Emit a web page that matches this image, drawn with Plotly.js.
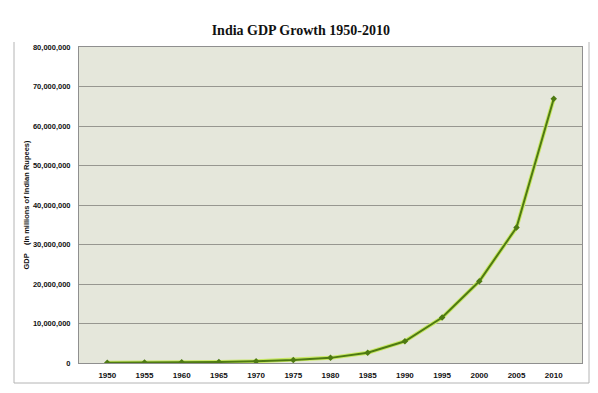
<!DOCTYPE html>
<html>
<head>
<meta charset="utf-8">
<script src="https://cdn.plot.ly/plotly-3.0.1.min.js"></script>
<style>html,body{margin:0;padding:0;background:#fff;}#chart{width:598px;height:393px;}</style>
</head>
<body>
<div id="chart"></div>
<script>
const years = ['1950','1955','1960','1965','1970','1975','1980','1985','1990','1995','2000','2005','2010'];
const gdp = [90000, 105000, 160000, 250000, 420000, 750000, 1300000, 2600000, 5500000, 11500000, 20700000, 34300000, 66900000];
const yTicks = [0, 10000000, 20000000, 30000000, 40000000, 50000000, 60000000, 70000000, 80000000];
const yTickText = ['0','10,000,000','20,000,000','30,000,000','40,000,000','50,000,000','60,000,000','70,000,000','80,000,000'];

const L = 79, T = 47, W = 503, H = 316;
function px(x){return (x - L)/W;}
function py(y){return (T + H - y)/H;}

const glow = {x: years, y: gdp, type: 'scatter', mode: 'lines',
  line: {color: '#c9e866', width: 4}, hoverinfo: 'skip', showlegend: false};
const main = {x: years, y: gdp, type: 'scatter', mode: 'lines+markers',
  line: {color: '#4e7a12', width: 2},
  marker: {symbol: 'diamond', size: 5, color: '#4e7a12'}, showlegend: false};

const frame = {color: '#b4b4b4', width: 1};
const layout = {
  width: 598, height: 393,
  margin: {l: L, r: 598 - L - W, t: T, b: 393 - T - H, pad: 0},
  paper_bgcolor: '#ffffff',
  plot_bgcolor: '#e5e7db',
  title: {text: '<b>India GDP Growth 1950-2010</b>', x: 0.503, xref: 'container', xanchor: 'center', y: 0.935, yref: 'container',
    font: {family: 'Liberation Serif, DejaVu Serif, serif', size: 14, color: '#111'}},
  xaxis: {type: 'category', tickvals: years, ticktext: years, showgrid: false,
    showline: true, linecolor: '#8f8f8f', linewidth: 1, mirror: true, ticks: '',
    tickfont: {family: 'Liberation Sans, Arial, sans-serif', size: 8, color: '#111', weight: 'bold'},
    ticklabelstandoff: 4, fixedrange: true},
  yaxis: {range: [0, 80000000], tickvals: yTicks, ticktext: yTickText,
    showgrid: true, gridcolor: '#979790', gridwidth: 1, zeroline: false,
    showline: true, linecolor: '#8f8f8f', linewidth: 1, mirror: true, ticks: '',
    tickfont: {family: 'Liberation Sans, Arial, sans-serif', size: 7.5, color: '#111', weight: 'bold'},
    ticklabelstandoff: 6,
    title: {text: '<b>GDP    (In millions of Indian Rupees)</b>', standoff: 2,
      font: {family: 'Liberation Sans, Arial, sans-serif', size: 7.5, color: '#111'}},
    fixedrange: true},
  shapes: [
    {type: 'line', xref: 'paper', yref: 'paper', x0: px(14), x1: px(14), y0: py(42), y1: py(383), line: frame},
    {type: 'line', xref: 'paper', yref: 'paper', x0: px(14), x1: px(589), y0: py(383), y1: py(383), line: frame},
    {type: 'line', xref: 'paper', yref: 'paper', x0: px(589), x1: px(589), y0: py(42), y1: py(383), line: frame}
  ]
};
Plotly.newPlot('chart', [glow, main], layout, {displayModeBar: false, staticPlot: true});
</script>
</body>
</html>
